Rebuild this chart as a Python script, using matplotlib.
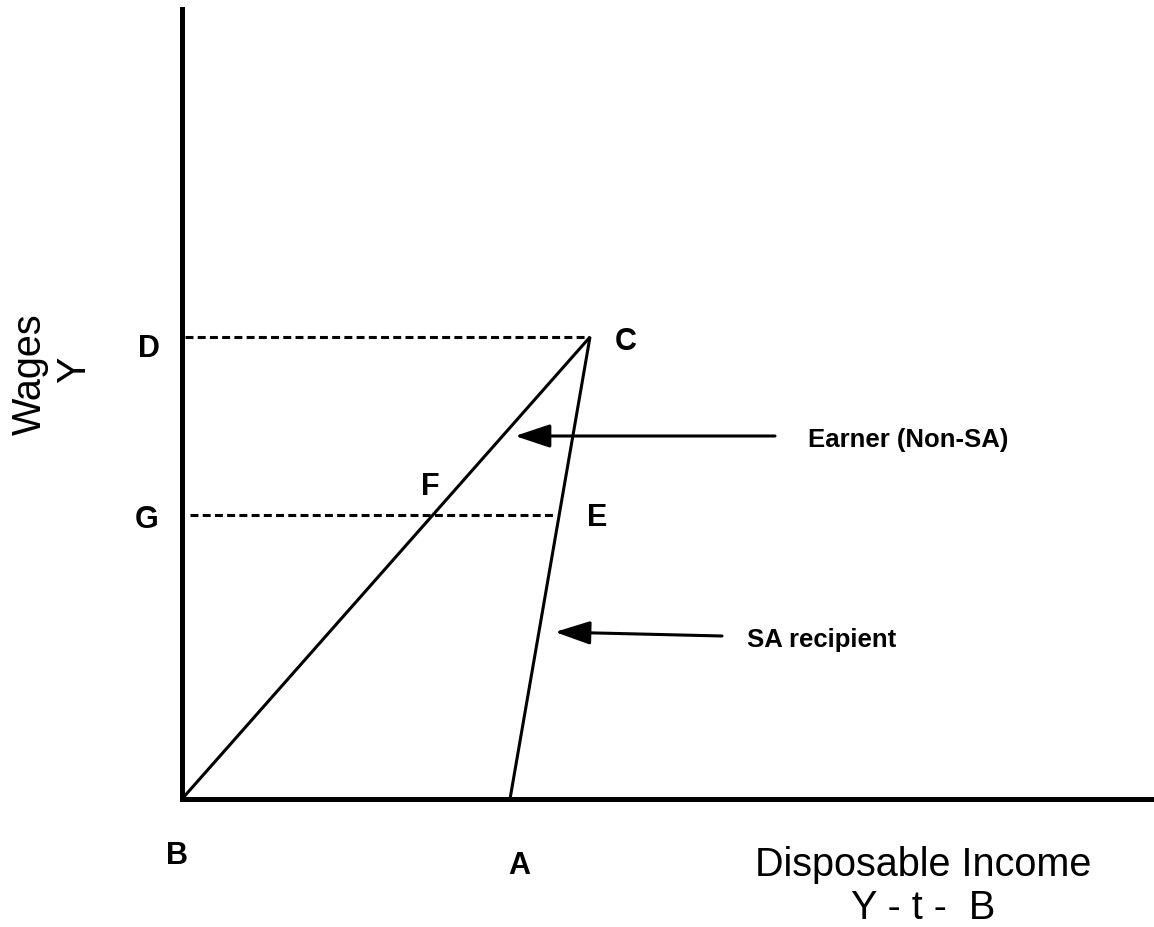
import matplotlib
matplotlib.use('Agg')
import matplotlib.pyplot as plt

plt.rcParams['font.family'] = ['Liberation Sans', 'DejaVu Sans']

# Diagram points (units: horizontal / vertical distance from origin B)
point_B = [0, 0]
point_A = [328, 0]
point_C = [408, 462]
level_D = 462
level_G = 284
g_line_end = 373

# Point labels and their positions
point_labels = ['D', 'G', 'C', 'F', 'E', 'B', 'A']
label_x = [-33, -35, 444, 248, 415, -5, 337]
label_y = [451, 280, 458, 313, 282, -56, -66]

# Callouts: text, text position, arrow tail, arrow tip
callout_text = ['Earner (Non-SA)', 'SA recipient']
callout_pos = [[626, 360], [565, 160]]
callout_tail = [[593, 363], [540, 163]]
callout_tip = [[333, 363], [373, 167]]

fig = plt.figure(figsize=(11.54, 9.28), dpi=100)
ax = fig.add_axes([182 / 1154, 128 / 928, 972 / 1154, 790 / 928])
ax.set_xlim(0, 972)
ax.set_ylim(0, 790)

# Axes as thick black lines
for side in ['top', 'right']:
    ax.spines[side].set_visible(False)
for side in ['left', 'bottom']:
    ax.spines[side].set_linewidth(3.6)
    ax.spines[side].set_color('black')
ax.set_xticks([])
ax.set_yticks([])

# Budget lines
ax.plot([point_B[0], point_C[0]], [point_B[1], point_C[1]], color='black', lw=2.2, solid_capstyle='butt')
ax.plot([point_A[0], point_C[0]], [point_A[1], point_C[1]], color='black', lw=2.2, solid_capstyle='butt')

# Dashed guide lines
ax.plot([3, point_C[0]], [level_D, level_D], color='black', lw=2.2, dashes=(2.6, 1.4))
ax.plot([8, g_line_end], [level_G, level_G], color='black', lw=2.2, dashes=(2.6, 1.4))

# Point labels
for lab, x, y in zip(point_labels, label_x, label_y):
    ax.text(x, y, lab, fontsize=22, fontweight='bold', ha='center', va='center', clip_on=False)

# Callouts with arrows
for txt, pos, tail, tip in zip(callout_text, callout_pos, callout_tail, callout_tip):
    ax.annotate('', xy=tip, xytext=tail,
                arrowprops=dict(arrowstyle='-|>,head_length=2.16,head_width=0.72',
                                mutation_scale=10, lw=2.2, color='black',
                                shrinkA=0, shrinkB=0))
    ax.text(pos[0], pos[1], txt, fontsize=18.5, fontweight='bold', ha='left', va='center')

# Axis titles
fig.text(30 / 1154, 1 - 374 / 928, 'Wages', rotation=90, fontsize=28.5,
         ha='center', va='center')
fig.text(74 / 1154, 1 - 370 / 928, 'Y', rotation=90, fontsize=28.5,
         ha='center', va='center')
fig.text(923 / 1154, 1 - 876 / 928, 'Disposable Income', fontsize=28.5,
         ha='center', va='baseline')
fig.text(923 / 1154, 1 - 919 / 928, 'Y - t -  B', fontsize=28.5,
         ha='center', va='baseline')

fig.savefig('out.png', dpi=100)
